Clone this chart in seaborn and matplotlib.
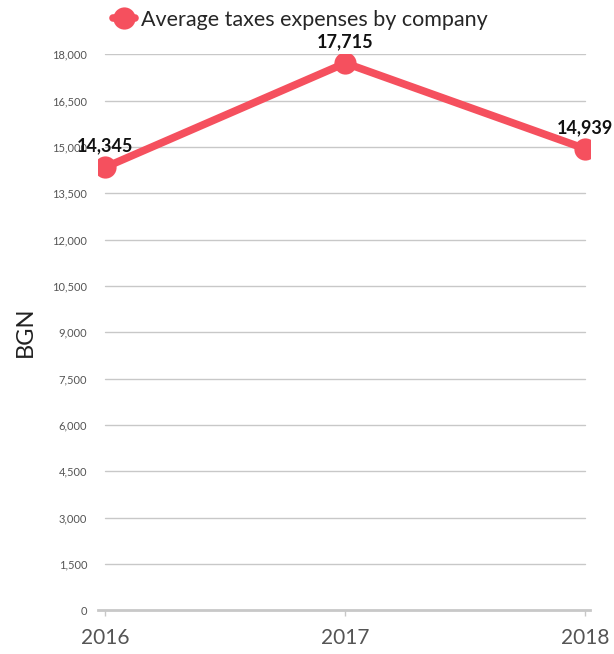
import matplotlib
matplotlib.use("Agg")
import matplotlib.pyplot as plt
import seaborn as sns
import pandas as pd

years = ["2016", "2017", "2018"]
values = [14345, 17715, 14939]
series_name = "Average taxes expenses by company"
y_ticks = [0, 1500, 3000, 4500, 6000, 7500, 9000, 10500, 12000, 13500, 15000, 16500, 18000]

df = pd.DataFrame({"year": years, "value": values, "series": series_name})

sns.set_theme(style="white")
plt.rcParams["font.family"] = ["Lato", "DejaVu Sans"]

RED = "#F5505E"
fig = plt.figure(figsize=(6.14, 6.54), dpi=100)
ax = fig.add_axes([0.16, 0.067, 0.801, 0.85])

xs = list(range(len(years)))
for t in y_ticks[1:]:
    ax.plot([0, 2], [t, t], color="#c8c8c8", lw=1.0, zorder=0)

sns.lineplot(data=df, x="year", y="value", hue="series", palette=[RED], ax=ax,
             lw=5.5, marker="o", markersize=16, markeredgewidth=0, sort=False, zorder=3)

ax.set_ylim(0, 18000)
ax.set_xlim(-0.03, 2.02)
ax.set_yticks(y_ticks)
ax.set_yticklabels([f"{t:,}" for t in y_ticks], color="#555555", fontsize=8)
ax.set_xticks(xs)
ax.set_xticklabels(years, color="#555555", fontsize=15)
ax.tick_params(axis="x", length=4, width=1, color="#c8c8c8", pad=9, bottom=True)
ax.tick_params(axis="y", length=0, pad=8)
for s in ["top", "right", "left"]:
    ax.spines[s].set_visible(False)
ax.spines["bottom"].set_color("#c8c8c8")
ax.spines["bottom"].set_linewidth(2)
ax.set_xlabel("")
ax.set_ylabel("BGN", fontsize=17, color="#222222", labelpad=12)

for x, v in zip(xs, values):
    ax.annotate(f"{v:,}", (x, v), xytext=(0, 9), textcoords="offset points",
                ha="center", va="bottom", fontsize=13, fontweight="bold", color="#111111")

ax.legend(loc="center", bbox_to_anchor=(0.49, 0.970), bbox_transform=fig.transFigure,
          frameon=False, fontsize=15.5, handlelength=1.0, handletextpad=0.3,
          markerscale=1.0)

fig.savefig("out.png", dpi=100)
